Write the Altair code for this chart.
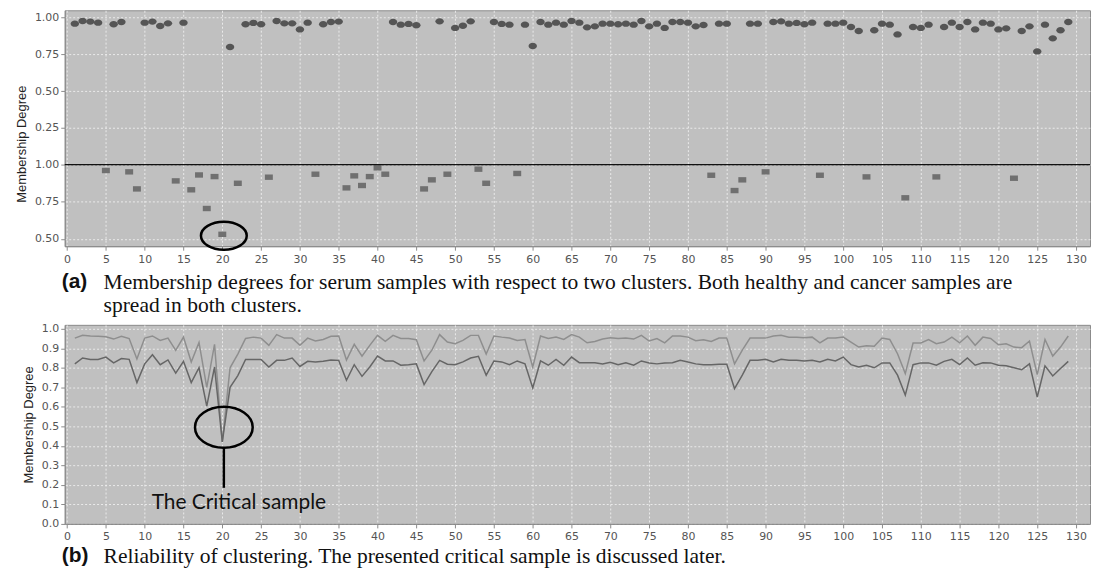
import altair as alt
import pandas as pd

# ---------------- data ----------------
# (a) cluster 1 (circles, upper sub-plot)
circle_x = [1, 2, 3, 4, 6, 7, 10, 11, 12, 13, 15, 21, 23, 24, 25, 27, 28, 29, 30, 31, 33, 34, 35,
            42, 43, 44, 45, 48, 50, 51, 52, 55, 56, 57, 59, 60, 61, 62, 63, 64, 65, 66, 67, 68, 69,
            70, 71, 72, 73, 74, 75, 76, 77, 78, 79, 80, 81, 82, 84, 85, 88, 89, 91, 92, 93, 94, 95,
            96, 98, 99, 100, 101, 102, 104, 105, 106, 107, 109, 110, 111, 113, 114, 115, 116, 117,
            118, 119, 120, 121, 123, 124, 125, 126, 127, 128, 129]
circle_y = [0.959, 0.977, 0.973, 0.966, 0.955, 0.970, 0.966, 0.973, 0.943, 0.961, 0.966, 0.800,
            0.955, 0.964, 0.955, 0.977, 0.961, 0.961, 0.920, 0.966, 0.955, 0.970, 0.973,
            0.970, 0.952, 0.957, 0.948, 0.975, 0.930, 0.945, 0.975, 0.970, 0.957, 0.952, 0.952,
            0.807, 0.970, 0.952, 0.966, 0.952, 0.977, 0.966, 0.934, 0.941, 0.959, 0.959, 0.955,
            0.959, 0.952, 0.977, 0.941, 0.959, 0.930, 0.970, 0.970, 0.966, 0.941, 0.950, 0.959,
            0.959, 0.959, 0.959, 0.970, 0.975, 0.959, 0.964, 0.955, 0.966, 0.959, 0.959, 0.966,
            0.936, 0.909, 0.914, 0.959, 0.952, 0.886, 0.936, 0.930, 0.952, 0.936, 0.966, 0.936,
            0.970, 0.920, 0.966, 0.959, 0.920, 0.927, 0.909, 0.941, 0.770, 0.952, 0.859, 0.914,
            0.970]
# (a) cluster 2 (squares, lower sub-plot)
square_x = [5, 8, 9, 14, 16, 17, 18, 19, 20, 22, 26, 32, 36, 37, 38, 39, 40, 41, 46, 47, 49, 53,
            54, 58, 83, 86, 87, 90, 97, 103, 108, 112, 122]
square_y = [0.960, 0.951, 0.836, 0.890, 0.830, 0.930, 0.704, 0.919, 0.530, 0.874, 0.915, 0.935,
            0.843, 0.924, 0.859, 0.919, 0.978, 0.935, 0.836, 0.897, 0.935, 0.969, 0.874, 0.940,
            0.928, 0.825, 0.897, 0.951, 0.928, 0.917, 0.776, 0.917, 0.908]

# (b) reliability lines
samples = list(range(1, 130))
upper_b = [0.952, 0.966, 0.963, 0.961, 0.959, 0.947, 0.961, 0.950, 0.845, 0.952,
           0.963, 0.940, 0.952, 0.889, 0.957, 0.830, 0.930, 0.700, 0.920, 0.420,
           0.800, 0.870, 0.950, 0.957, 0.952, 0.915, 0.970, 0.952, 0.952, 0.915,
           0.952, 0.937, 0.945, 0.961, 0.963, 0.840, 0.920, 0.859, 0.915, 0.966,
           0.935, 0.966, 0.950, 0.950, 0.944, 0.835, 0.890, 0.970, 0.932, 0.923,
           0.940, 0.966, 0.966, 0.870, 0.963, 0.957, 0.952, 0.940, 0.945, 0.804,
           0.963, 0.950, 0.957, 0.945, 0.970, 0.957, 0.928, 0.935, 0.947, 0.954,
           0.950, 0.952, 0.947, 0.966, 0.937, 0.950, 0.928, 0.963, 0.963, 0.957,
           0.939, 0.944, 0.935, 0.952, 0.952, 0.820, 0.890, 0.952, 0.952, 0.952,
           0.963, 0.966, 0.957, 0.957, 0.954, 0.957, 0.928, 0.952, 0.952, 0.957,
           0.932, 0.906, 0.913, 0.910, 0.952, 0.945, 0.872, 0.770, 0.927, 0.927,
           0.945, 0.923, 0.932, 0.957, 0.928, 0.963, 0.915, 0.957, 0.950, 0.918,
           0.923, 0.906, 0.903, 0.937, 0.765, 0.945, 0.860, 0.906, 0.963]
lower_b = [0.820, 0.850, 0.843, 0.843, 0.855, 0.825, 0.847, 0.843, 0.724, 0.820,
           0.867, 0.816, 0.840, 0.773, 0.833, 0.724, 0.800, 0.603, 0.804, 0.420,
           0.700, 0.760, 0.843, 0.843, 0.843, 0.804, 0.838, 0.838, 0.850, 0.807,
           0.833, 0.830, 0.833, 0.840, 0.838, 0.736, 0.816, 0.756, 0.804, 0.860,
           0.835, 0.835, 0.813, 0.816, 0.820, 0.714, 0.780, 0.838, 0.818, 0.816,
           0.830, 0.850, 0.859, 0.762, 0.835, 0.830, 0.816, 0.835, 0.820, 0.697,
           0.835, 0.813, 0.843, 0.813, 0.855, 0.826, 0.826, 0.826, 0.820, 0.828,
           0.816, 0.825, 0.813, 0.835, 0.825, 0.820, 0.825, 0.826, 0.838, 0.830,
           0.820, 0.816, 0.816, 0.818, 0.818, 0.693, 0.762, 0.838, 0.838, 0.843,
           0.830, 0.843, 0.838, 0.838, 0.835, 0.838, 0.830, 0.843, 0.835, 0.855,
           0.816, 0.804, 0.813, 0.800, 0.825, 0.825, 0.762, 0.660, 0.816, 0.825,
           0.825, 0.813, 0.833, 0.843, 0.816, 0.850, 0.813, 0.826, 0.825, 0.813,
           0.810, 0.800, 0.790, 0.820, 0.650, 0.810, 0.758, 0.796, 0.833]

x_ticks = list(range(0, 131, 5))
ya_top_ticks = [0.25, 0.50, 0.75, 1.00]
ya_bot_ticks = [0.50, 0.75, 1.00]
yb_ticks = [round(0.1 * i, 1) for i in range(11)]

# annotation anchors (data space)
crit_x = [20.2]
ell_a_y = [0.52]
ell_b_y = [0.495]
pointer_y = [0.39]
pointer_y2 = [0.185]
label_x = [10.9]
label_y = [0.105]
label_txt = ["The Critical sample"]

cap_a_1 = ["Membership degrees for serum samples with respect to two clusters. Both healthy and cancer samples are"]
cap_a_2 = ["spread in both clusters."]
cap_b = ["Reliability of clustering. The presented critical sample is discussed later."]

# ---------------- style ----------------
W = 1030
XDOM = [-0.3, 131.8]
BG = "#c0c0c0"
AX = "#8a8a8a"
ELL_PT = "M-1,0A1,0.75 0 1,1 1,0A1,0.75 0 1,1 -1,0Z"
RECT_PT = "M-1,-0.68L1,-0.68L1,0.68L-1,0.68Z"
ELL_A = "M-1,0A1,0.61 0 1,1 1,0A1,0.61 0 1,1 -1,0Z"
ELL_B = "M-1,0A1,0.71 0 1,1 1,0A1,0.71 0 1,1 -1,0Z"

xs = alt.Scale(domain=XDOM, nice=False, zero=False)

X_SHOW = alt.Axis(values=x_ticks, format="d", title=None, grid=True, labelPadding=3,
                  labelFlush=False, labelOverlap=False, tickCount=27)
X_HIDE = alt.Axis(values=x_ticks, labels=False, ticks=False, domain=False, title=None, grid=True)
Y_AT = alt.Axis(values=ya_top_ticks, format=".2f", title="Membership Degree", titleY=134,
                labelOverlap=False)
Y_AB = alt.Axis(values=ya_bot_ticks, format=".2f", title=None, labelOverlap=False)
Y_B = alt.Axis(values=yb_ticks, format=".1f", title="Membership Degree", labelOverlap=False,
               tickCount=11)

# ---------------- panel (a) top ----------------
df_c = pd.DataFrame({"x": circle_x, "y": circle_y})
a_top = alt.Chart(df_c).mark_point(shape=ELL_PT, size=72, filled=True, color="#555555",
                                   opacity=1, strokeWidth=0).encode(
    x=alt.X("x:Q", scale=xs, axis=X_HIDE),
    y=alt.Y("y:Q", scale=alt.Scale(domain=[0, 1.05], nice=False, zero=False), axis=Y_AT),
).properties(width=W, height=155)

# ---------------- panel (a) bottom ----------------
df_s = pd.DataFrame({"x": square_x, "y": square_y})
ys_ab = alt.Scale(domain=[0.45, 1.0], nice=False, zero=False)
sq = alt.Chart(df_s).mark_point(shape=RECT_PT, size=64, filled=True, color="#707070",
                                opacity=1, strokeWidth=0).encode(
    x=alt.X("x:Q", scale=xs, axis=X_SHOW),
    y=alt.Y("y:Q", scale=ys_ab, axis=Y_AB),
)
sep = alt.Chart(pd.DataFrame({"y": [1.0]})).mark_rule(color="#111111", strokeWidth=1.3).encode(
    y=alt.Y("y:Q", scale=ys_ab, axis=Y_AB))
ell_a = alt.Chart(pd.DataFrame({"x": crit_x, "y": ell_a_y})).mark_point(
    shape=ELL_A, size=2116, filled=False, color="#000000", strokeWidth=2.5, opacity=1).encode(
    x=alt.X("x:Q", scale=xs, axis=X_SHOW), y=alt.Y("y:Q", scale=ys_ab, axis=Y_AB))
a_bot = alt.layer(sq, sep, ell_a).properties(width=W, height=82)

# ---------------- gap with caption (a) ----------------
def cap_tag(txt, ypix):
    return alt.Chart(pd.DataFrame({"t": [txt]})).mark_text(
        align="left", baseline="middle", font="Liberation Sans", fontWeight="bold",
        fontSize=21, color="#111111").encode(x=alt.value(-3), y=alt.value(ypix), text="t:N")

def cap_text(lst, ypix):
    return alt.Chart(pd.DataFrame({"t": lst})).mark_text(
        align="left", baseline="middle", font="Liberation Serif", fontSize=21.6,
        color="#111111").encode(x=alt.value(39), y=alt.value(ypix), text="t:N")

gap = alt.layer(
    cap_tag("(a)", 36), cap_text(cap_a_1, 37), cap_text(cap_a_2, 60),
).properties(width=W, height=79,
             view=alt.ViewBackground(fill="white", stroke="white", opacity=0))

# ---------------- panel (b) ----------------
df_l = pd.concat([
    pd.DataFrame({"x": samples, "y": upper_b, "s": "upper"}),
    pd.DataFrame({"x": samples, "y": lower_b, "s": "lower"}),
])
ys_b = alt.Scale(domain=[0, 1.02], nice=False, zero=False)
lines = alt.Chart(df_l).mark_line(strokeWidth=1.5).encode(
    x=alt.X("x:Q", scale=xs, axis=X_SHOW),
    y=alt.Y("y:Q", scale=ys_b, axis=Y_B),
    color=alt.Color("s:N", scale=alt.Scale(domain=["upper", "lower"],
                                           range=["#8e8e8e", "#666666"]), legend=None),
    detail="s:N",
)
ell_b = alt.Chart(pd.DataFrame({"x": crit_x, "y": ell_b_y})).mark_point(
    shape=ELL_B, size=3364, filled=False, color="#000000", strokeWidth=2.5, opacity=1).encode(
    x=alt.X("x:Q", scale=xs, axis=X_SHOW), y=alt.Y("y:Q", scale=ys_b, axis=Y_B))
pointer = alt.Chart(pd.DataFrame({"x": crit_x, "y": pointer_y, "y2": pointer_y2})).mark_rule(
    color="#000000", strokeWidth=2.5).encode(
    x=alt.X("x:Q", scale=xs, axis=X_SHOW), y=alt.Y("y:Q", scale=ys_b, axis=Y_B), y2="y2:Q")
crit_lbl = alt.Chart(pd.DataFrame({"x": label_x, "y": label_y, "t": label_txt})).mark_text(
    align="left", baseline="middle", font="Lato", fontSize=21, color="#111111").encode(
    x=alt.X("x:Q", scale=xs, axis=X_SHOW), y=alt.Y("y:Q", scale=ys_b, axis=Y_B), text="t:N")

b_panel = alt.layer(
    lines, ell_b, pointer, crit_lbl,
    cap_tag("(b)", 232), cap_text(cap_b, 233),
).properties(width=W, height=200)

chart = alt.vconcat(a_top, a_bot, gap, b_panel, spacing=0, bounds="flush").resolve_scale(
    x="independent", y="independent"
).properties(
    padding={"left": 7, "top": 0, "right": 0, "bottom": 0},
    background="white",
).configure_view(
    fill=BG, stroke=AX, strokeWidth=1,
).configure_axis(
    labelFont="DejaVu Sans", labelFontSize=11, labelColor="#555555",
    domainColor=AX, tickColor=AX, tickSize=4,
    gridColor="#f2f2f2", gridDash=[2, 2], gridWidth=1, gridOpacity=0.85,
    titleFont="Liberation Sans Narrow, Liberation Sans, sans-serif", titleFontSize=13,
    titleFontWeight="normal", titleColor="#222222", titlePadding=6,
)

chart.save("out.html", embed_options={"renderer": "svg", "actions": False})
